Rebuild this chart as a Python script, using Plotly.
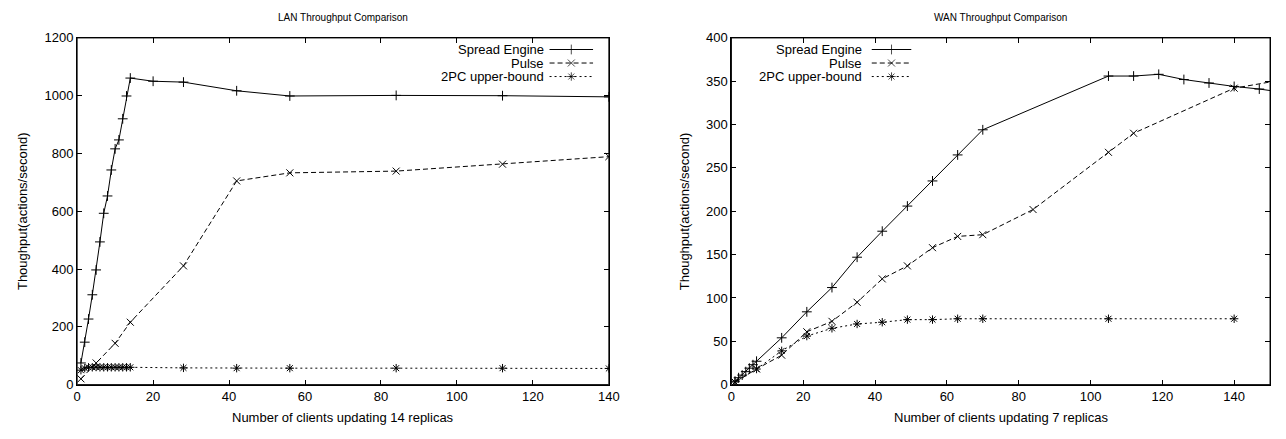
import plotly.graph_objects as go

# ---------------- data ----------------
lan_spread_x = [1, 2, 3, 4, 5, 6, 7, 8, 9, 10, 11, 12, 13, 14, 20, 28, 42, 56, 84, 112, 140]
lan_spread_y = [75, 147, 227, 311, 397, 494, 593, 653, 743, 816, 847, 920, 999, 1061, 1050, 1047, 1017, 999, 1001, 1000, 996]
lan_pulse_x = [1, 5, 10, 14, 28, 42, 56, 84, 112, 140]
lan_pulse_y = [20, 75, 143, 216, 411, 705, 733, 739, 763, 789]
lan_2pc_x = [1, 2, 3, 4, 5, 6, 7, 8, 9, 10, 11, 12, 13, 14, 28, 42, 56, 84, 112, 140]
lan_2pc_y = [50, 57, 60, 60, 61, 60, 60, 60, 60, 60, 60, 60, 60, 60, 58, 57, 57, 57, 57, 56]

wan_spread_x = [1, 2, 3, 4, 5, 6, 7, 14, 21, 28, 35, 42, 49, 56, 63, 70, 105, 112, 119, 126, 133, 140, 147, 154]
wan_spread_y = [4, 8, 11, 15, 19, 23, 27, 54, 84, 112, 147, 177, 206, 235, 265, 294, 356, 356, 358, 352, 348, 344, 341, 337]
wan_pulse_x = [1, 7, 14, 21, 28, 35, 42, 49, 56, 63, 70, 84, 105, 112, 140, 154]
wan_pulse_y = [3, 18, 34, 61, 73, 95, 122, 137, 158, 171, 173, 202, 268, 290, 342, 352]
wan_2pc_x = [1, 7, 14, 21, 28, 35, 42, 49, 56, 63, 70, 105, 140]
wan_2pc_y = [3, 18, 39, 56, 65, 70, 72, 75, 75, 76, 76, 76, 76]

series_names = ["Spread Engine", "Pulse", "2PC upper-bound"]
chart_titles = ["LAN Throughput Comparison", "WAN Throughput Comparison"]
x_titles = ["Number of clients updating 14 replicas", "Number of clients updating 7 replicas"]
y_title = "Thoughput(actions/second)"

# ---------------- styling ----------------
W, H = 1286, 439
FONT = "Liberation Sans, Arial, sans-serif"
FS = 13
TITLE_FS = 10
styles = [
    dict(dash="solid", symbol="cross-thin-open"),
    dict(dash="5px,3px", symbol="x-thin-open"),
    dict(dash="2px,3px", symbol="asterisk-open"),
]

def px_x(p):
    return p / W

def px_y(p):
    return 1 - p / H

left_dom = [px_x(74), px_x(612)]
right_dom = [px_x(736), px_x(1281)]
y_dom = [px_y(391), px_y(32)]

fig = go.Figure()

def add_series(xs, ys, idx, xa, ya):
    st = styles[idx]
    fig.add_trace(go.Scatter(
        x=xs, y=ys, mode="lines+markers", name=series_names[idx],
        xaxis=xa, yaxis=ya, showlegend=False, cliponaxis=True,
        line=dict(color="black", width=1, dash=st["dash"]),
        marker=dict(symbol=st["symbol"], size=7, color="black",
                    line=dict(color="black", width=1)),
    ))

add_series(lan_spread_x, lan_spread_y, 0, "x", "y")
add_series(lan_pulse_x, lan_pulse_y, 1, "x", "y")
add_series(lan_2pc_x, lan_2pc_y, 2, "x", "y")
add_series(wan_spread_x, wan_spread_y, 0, "x2", "y2")
add_series(wan_pulse_x, wan_pulse_y, 1, "x2", "y2")
add_series(wan_2pc_x, wan_2pc_y, 2, "x2", "y2")

# custom legends (text right aligned, sample on the right) on a paper-like overlay axis
legend_specs = [
    dict(text_right=548, s0=552, s1=596),
    dict(text_right=870, s0=878, s1=918),
]
row_y = [44, 58, 72]
annotations = []
for spec in legend_specs:
    for i, name in enumerate(series_names):
        yy = px_y(row_y[i])
        annotations.append(dict(
            x=px_x(spec["text_right"]), y=yy, xref="paper", yref="paper",
            text=name, showarrow=False, xanchor="right", yanchor="middle",
            font=dict(family=FONT, size=FS, color="black")))
        st = styles[i]
        x0, x1 = px_x(spec["s0"]), px_x(spec["s1"])
        fig.add_trace(go.Scatter(
            x=[x0, (x0 + x1) / 2, x1], y=[yy, yy, yy], mode="lines+markers",
            xaxis="x3", yaxis="y3", showlegend=False, hoverinfo="skip",
            line=dict(color="black", width=1, dash=st["dash"]),
            marker=dict(symbol=st["symbol"], size=[0, 7, 0], color="black",
                        line=dict(color="black", width=1)),
        ))

# titles
for dom, t, xt in [(left_dom, chart_titles[0], x_titles[0]), (right_dom, chart_titles[1], x_titles[1])]:
    cx = (dom[0] + dom[1]) / 2
    annotations.append(dict(x=cx, y=px_y(11), xref="paper", yref="paper", text=t,
                            showarrow=False, xanchor="center", yanchor="middle",
                            font=dict(family=FONT, size=TITLE_FS, color="black")))
    annotations.append(dict(x=cx, y=px_y(425), xref="paper", yref="paper", text=xt,
                            showarrow=False, xanchor="center", yanchor="middle",
                            font=dict(family=FONT, size=FS, color="black")))
for xp in [18, 688]:
    annotations.append(dict(x=px_x(xp), y=(y_dom[0] + y_dom[1]) / 2, xref="paper", yref="paper",
                            text=y_title, textangle=-90, showarrow=False,
                            xanchor="center", yanchor="middle",
                            font=dict(family=FONT, size=FS, color="black")))

# plot frames
shapes = []
for xr, yr in [("x domain", "y domain"), ("x2 domain", "y2 domain")]:
    shapes.append(dict(type="rect", xref=xr, yref=yr, x0=0, x1=1, y0=0, y1=1,
                       line=dict(color="black", width=1), fillcolor="rgba(0,0,0,0)",
                       layer="above"))

axis_common = dict(
    showline=True, linecolor="black", linewidth=1, mirror="ticks",
    ticks="inside", ticklen=5, tickcolor="black", tickwidth=1,
    showgrid=False, zeroline=False,
    tickfont=dict(family=FONT, size=FS, color="black"),
)

fig.update_layout(
    width=W, height=H,
    margin=dict(l=0, r=0, t=0, b=0),
    paper_bgcolor="white", plot_bgcolor="rgba(0,0,0,0)",
    showlegend=False,
    hovermode=False,
    xaxis=dict(domain=left_dom, range=[0, 140], dtick=20, anchor="y", **axis_common),
    yaxis=dict(domain=y_dom, range=[0, 1200], dtick=200, anchor="x", **axis_common),
    xaxis2=dict(domain=right_dom, range=[0, 150], tick0=0, dtick=20, anchor="y2", **axis_common),
    yaxis2=dict(domain=y_dom, range=[0, 400], dtick=50, anchor="x2", **axis_common),
    xaxis3=dict(domain=[0, 1], range=[0, 1], visible=False, anchor="y3", fixedrange=True),
    yaxis3=dict(domain=[0, 1], range=[0, 1], visible=False, anchor="x3", fixedrange=True),
    annotations=annotations,
    shapes=shapes,
)

fig.write_html("out.html", config={"displayModeBar": False},
               post_script="document.body.style.margin='0px';document.body.style.overflow='hidden';")
